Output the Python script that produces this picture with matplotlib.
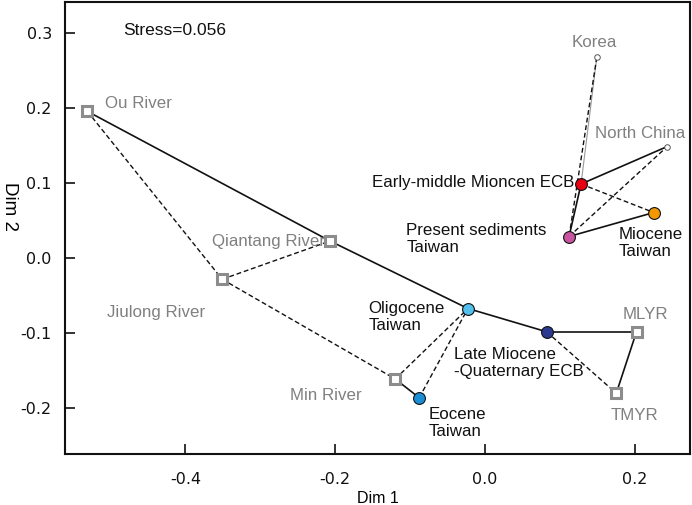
import matplotlib
matplotlib.use("Agg")
import matplotlib.pyplot as plt

plt.rcParams['font.family'] = ['Liberation Sans', 'DejaVu Sans']

# --- data (Dim 1, Dim 2) ---
names = ["Ou River", "Qiantang River", "Jiulong River", "Min River",
         "Eocene Taiwan", "Oligocene Taiwan", "Late Miocene ECB", "MLYR", "TMYR",
         "Present Taiwan", "Early-middle ECB", "Miocene Taiwan", "North China", "Korea"]
dim1 = [-0.531, -0.207, -0.351, -0.120, -0.088, -0.023, 0.082, 0.202, 0.175,
        0.112, 0.128, 0.225, 0.243, 0.149]
dim2 = [0.196, 0.023, -0.028, -0.161, -0.186, -0.067, -0.098, -0.098, -0.180,
        0.029, 0.099, 0.061, 0.149, 0.268]

rivers = ["Ou River", "Qiantang River", "Jiulong River", "Min River", "MLYR", "TMYR"]
sources_small = ["North China", "Korea"]
colored = {"Eocene Taiwan": "#1a8fd6", "Oligocene Taiwan": "#52bfec",
           "Late Miocene ECB": "#2b3a8f", "Present Taiwan": "#c9549f",
           "Early-middle ECB": "#e60012", "Miocene Taiwan": "#f39800"}

solid_links = [("Ou River", "Qiantang River"), ("Qiantang River", "Oligocene Taiwan"),
               ("Oligocene Taiwan", "Late Miocene ECB"), ("Late Miocene ECB", "MLYR"),
               ("MLYR", "TMYR"), ("Min River", "Eocene Taiwan"),
               ("Early-middle ECB", "North China"), ("Present Taiwan", "Miocene Taiwan"),
               ("Present Taiwan", "Early-middle ECB")]
thin_links = [("Korea", "Early-middle ECB")]
dashed_links = [("Ou River", "Jiulong River"), ("Jiulong River", "Qiantang River"),
                ("Jiulong River", "Min River"), ("Min River", "Oligocene Taiwan"),
                ("Eocene Taiwan", "Oligocene Taiwan"), ("Late Miocene ECB", "TMYR"),
                ("Early-middle ECB", "Miocene Taiwan"), ("Present Taiwan", "North China"),
                ("Korea", "Present Taiwan")]

# labels: text, x, y, ha, color
labels = [
    ("Ou River", -0.507, 0.206, "left", "#808080"),
    ("Qiantang River", -0.214, 0.023, "right", "#808080"),
    ("Jiulong River", -0.505, -0.0725, "left", "#808080"),
    ("Min River", -0.260, -0.183, "left", "#808080"),
    ("MLYR", 0.184, -0.0745, "left", "#808080"),
    ("TMYR", 0.168, -0.210, "left", "#808080"),
    ("Korea", 0.146, 0.288, "center", "#808080"),
    ("North China", 0.146, 0.1665, "left", "#808080"),
    ("Early-middle Mioncen ECB", 0.119, 0.1005, "right", "#111111"),
    ("Present sediments\nTaiwan", -0.105, 0.0255, "left", "#111111"),
    ("Miocene\nTaiwan", 0.178, 0.020, "left", "#111111"),
    ("Oligocene\nTaiwan", -0.156, -0.078, "left", "#111111"),
    ("Late Miocene\n-Quaternary ECB", -0.041, -0.1395, "left", "#111111"),
    ("Eocene\nTaiwan", -0.076, -0.220, "left", "#111111"),
]

pos = {n: (x, y) for n, x, y in zip(names, dim1, dim2)}

fig = plt.figure(figsize=(6.92, 5.05), dpi=100)
ax = fig.add_axes([0.094, 0.101, 0.903, 0.895])

for a, b in solid_links:
    ax.plot([pos[a][0], pos[b][0]], [pos[a][1], pos[b][1]], color="#111111", lw=1.2, zorder=2)
for a, b in thin_links:
    ax.plot([pos[a][0], pos[b][0]], [pos[a][1], pos[b][1]], color="#999999", lw=0.8, zorder=2)
for a, b in dashed_links:
    ax.plot([pos[a][0], pos[b][0]], [pos[a][1], pos[b][1]], color="#111111", lw=1.0,
            ls=(0, (3.5, 2.0)), zorder=2)

for n in rivers:
    ax.plot(*pos[n], marker="s", ms=7, mfc="white", mec="#8c8c8c", mew=2.2, zorder=3)
for n in sources_small:
    ax.plot(*pos[n], marker="o", ms=4, mfc="white", mec="#555555", mew=0.7, zorder=3)
for n, c in colored.items():
    ax.plot(*pos[n], marker="o", ms=8.5, mfc=c, mec="#111111", mew=0.8, zorder=4)

for t, x, y, ha, c in labels:
    ax.text(x, y, t, ha=ha, va="center", color=c, fontsize=12.2, linespacing=1.15, zorder=5)

ax.text(-0.483, 0.304, "Stress=0.056", ha="left", va="center", fontsize=12.5, color="#111111")

ax.set_xlim(-0.5607, 0.2733)
ax.set_ylim(-0.261, 0.3417)
ax.set_xticks([-0.4, -0.2, 0.0, 0.2])
ax.set_yticks([-0.2, -0.1, 0.0, 0.1, 0.2, 0.3])
ax.set_xticklabels(["-0.4", "-0.2", "0.0", "0.2"])
ax.set_yticklabels(["-0.2", "-0.1", "0.0", "0.1", "0.2", "0.3"])
ax.tick_params(direction="in", length=7, width=1.2, colors="#111111")
ax.tick_params(axis="x", pad=13)
ax.tick_params(axis="y", pad=9.5)
for lab in ax.get_xticklabels() + ax.get_yticklabels():
    lab.set_fontfamily(["DejaVu Sans"])
    lab.set_fontsize(11.5)
for s in ax.spines.values():
    s.set_linewidth(1.5)
    s.set_color("#111111")

ax.set_xlabel("Dim 1", fontsize=11.5, labelpad=3)
fig.text(0.014, 1 - 207 / 505, "Dim 2", rotation=270, ha="center", va="center", fontsize=13.5)

fig.savefig("out.png", dpi=100)
